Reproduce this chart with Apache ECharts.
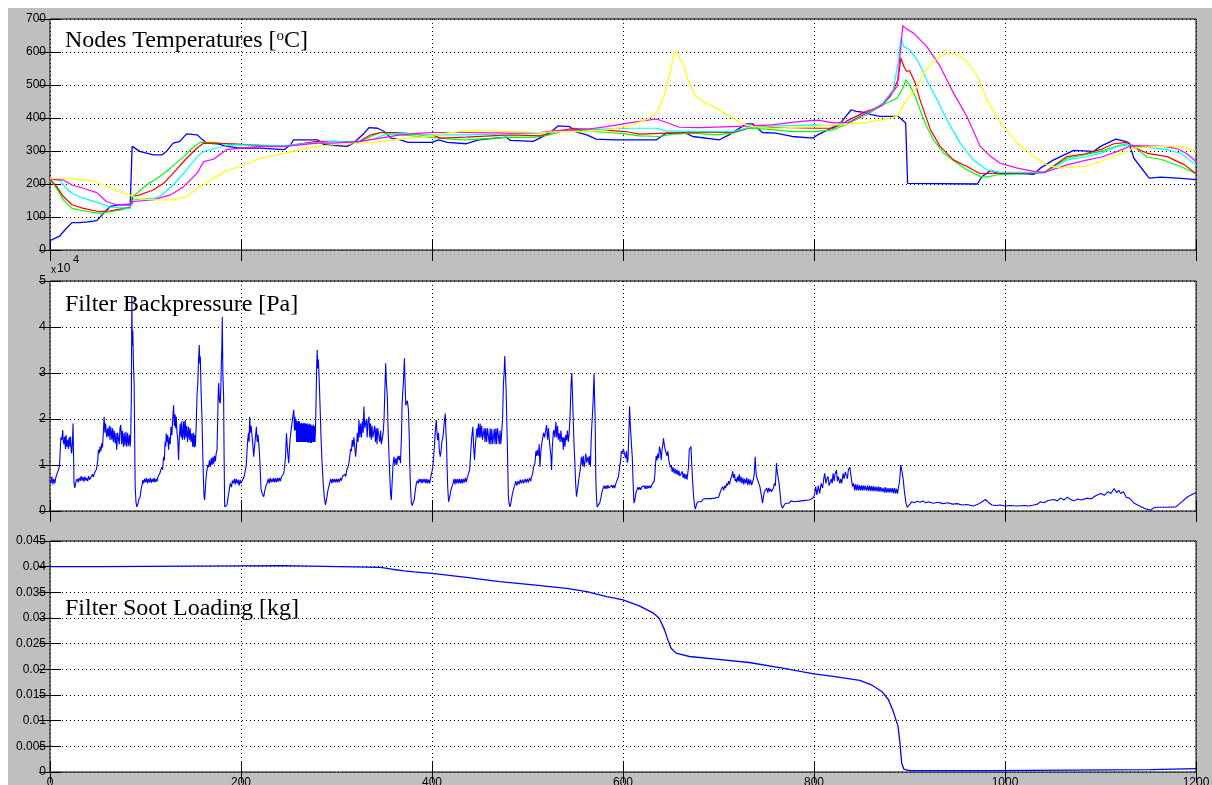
<!DOCTYPE html>
<html>
<head>
<meta charset="utf-8">
<script src="https://cdn.jsdelivr.net/npm/echarts@6/dist/echarts.min.js"></script>
<style>
html,body{margin:0;padding:0;background:#fff;}
#chart{position:absolute;left:8px;top:8px;width:1204px;height:777px;}
</style>
</head>
<body>
<div id="chart"></div>
<script>
// ---- x axis (time, s) ----
const xTicks = [0, 200, 400, 600, 800, 1000, 1200];

// ---- Nodes temperatures [degC], pairs [time, value] ----
const tempBlue = [[0,28],[5,35],[10,42],[16,62],[23,83],[31,83],[40,85],[49,89],[56,111],[63,132],[72,137],[84,137],[85,137],[86,314],[94,299],[108,288],[117,288],[122,299],[129,324],[136,329],[143,352],[154,349],[159,336],[164,324],[175,322],[185,314],[199,309],[220,309],[245,304],[252,319],[255,334],[280,334],[287,319],[311,314],[318,324],[329,354],[334,371],[343,369],[350,359],[357,339],[367,334],[375,326],[400,326],[407,334],[416,326],[436,322],[449,334],[478,342],[482,332],[506,329],[523,354],[532,376],[544,374],[550,359],[562,349],[572,336],[590,334],[635,334],[645,354],[666,354],[673,344],[701,334],[711,349],[729,382],[736,382],[746,356],[760,354],[777,344],[799,339],[804,349],[827,382],[839,425],[844,420],[853,417],[860,410],[869,405],[888,405],[896,385],[898,202],[971,200],[976,223],[985,241],[992,233],[1023,231],[1030,229],[1037,248],[1051,273],[1072,302],[1093,299],[1100,314],[1116,336],[1126,329],[1130,324],[1135,278],[1151,218],[1163,221],[1181,218],[1200,213]];
const tempGreen = [[0,212],[5,195],[9,177],[14,152],[23,126],[35,119],[52,111],[63,116],[73,121],[84,128],[86,162],[91,172],[101,197],[115,223],[126,248],[140,283],[149,309],[157,326],[171,326],[192,319],[220,317],[245,314],[280,326],[297,329],[322,326],[336,344],[346,356],[367,349],[388,344],[400,341],[419,336],[436,334],[482,342],[506,341],[523,349],[541,364],[555,362],[583,356],[603,352],[617,346],[638,344],[652,351],[673,354],[697,349],[715,354],[732,369],[750,366],[777,359],[800,359],[820,364],[837,385],[855,410],[872,440],[887,460],[894,496],[896,516],[900,501],[906,466],[911,425],[918,374],[925,334],[936,293],[950,263],[960,243],[974,223],[981,221],[992,228],[1030,233],[1041,235],[1065,278],[1083,288],[1100,299],[1118,316],[1128,322],[1135,314],[1149,281],[1163,275],[1184,253],[1200,231]];
const tempRed = [[0,215],[7,192],[14,162],[23,137],[35,126],[52,116],[63,119],[84,130],[87,162],[94,167],[108,182],[119,202],[129,233],[143,278],[154,309],[161,324],[192,322],[220,317],[245,314],[280,329],[297,329],[322,326],[336,349],[346,356],[367,356],[388,349],[400,349],[409,339],[436,342],[482,349],[513,346],[530,359],[548,369],[576,364],[603,359],[617,351],[645,354],[680,356],[715,356],[736,374],[756,372],[800,369],[820,369],[837,395],[855,420],[869,435],[880,466],[888,516],[891,582],[894,557],[897,541],[900,544],[906,506],[911,455],[922,364],[932,314],[946,273],[960,253],[974,231],[995,233],[1030,233],[1041,235],[1065,283],[1083,291],[1100,304],[1114,322],[1128,326],[1139,306],[1149,293],[1170,283],[1188,258],[1200,231]];
const tempCyan = [[0,215],[10,212],[17,187],[23,172],[35,157],[52,142],[63,130],[84,126],[87,152],[108,157],[115,162],[129,197],[143,243],[154,283],[161,299],[175,309],[185,316],[199,319],[245,316],[297,329],[322,326],[336,334],[350,349],[367,354],[400,349],[436,349],[482,352],[513,354],[530,359],[555,366],[576,366],[610,369],[635,369],[645,361],[680,359],[715,359],[736,374],[800,379],[820,376],[837,390],[855,415],[872,445],[883,486],[888,567],[891,643],[894,617],[900,607],[908,577],[918,516],[929,455],[939,395],[953,324],[967,273],[981,243],[995,235],[1030,235],[1041,233],[1065,273],[1083,281],[1100,293],[1118,314],[1132,319],[1139,314],[1156,309],[1170,304],[1184,293],[1200,258]];
const tempMagenta = [[0,215],[14,212],[23,197],[35,187],[49,174],[59,147],[70,137],[86,140],[87,147],[108,152],[126,167],[140,192],[154,233],[161,268],[171,275],[185,304],[199,309],[220,314],[245,314],[280,324],[297,324],[325,329],[346,339],[367,349],[388,354],[400,356],[436,356],[482,354],[513,356],[530,362],[562,366],[583,374],[610,387],[635,397],[645,387],[659,372],[680,371],[715,374],[736,376],[756,379],[777,387],[798,393],[806,393],[820,385],[837,387],[855,415],[872,440],[887,496],[890,587],[893,680],[897,670],[904,658],[918,617],[932,557],[946,476],[960,405],[974,314],[985,283],[995,263],[1013,248],[1030,238],[1041,235],[1065,258],[1083,271],[1100,281],[1118,299],[1132,316],[1167,314],[1181,306],[1191,291],[1200,268]];
const tempYellow = [[0,217],[17,217],[45,210],[59,194],[73,177],[86,164],[94,154],[108,152],[129,152],[143,162],[157,192],[171,217],[185,241],[199,253],[220,278],[245,293],[262,304],[280,314],[297,319],[318,322],[339,326],[367,336],[388,342],[402,349],[436,362],[482,359],[513,356],[530,359],[562,359],[583,364],[607,376],[624,395],[635,415],[643,466],[649,536],[654,602],[657,592],[664,557],[669,506],[676,466],[687,445],[701,425],[715,400],[725,382],[736,374],[756,369],[800,374],[820,379],[837,382],[855,387],[872,395],[887,405],[897,455],[906,486],[915,536],[925,572],[939,597],[950,592],[960,572],[971,526],[981,455],[995,385],[1013,324],[1030,283],[1044,258],[1058,248],[1083,253],[1100,268],[1118,288],[1135,309],[1163,314],[1184,314],[1200,299]];

// ---- Filter backpressure [x 10^4 Pa], pairs [time, value] ----
const backpressure = [[0,0.67],[1,0.6],[2,0.75],[3,0.58],[4,0.7],[5,0.6],[6,0.72],[7,0.75],[8,0.85],[9,0.9],[10,1.0],
[11,1.45],[11.5,1.6],[12.5,1.55],[13.3,1.76],[14,1.5],[14.7,1.45],[15.5,1.62],[16.2,1.35],[16.8,1.65],[17.5,1.4],[18.3,1.55],[19.2,1.35],[20,1.6],[21,1.4],[21.5,1.62],[22.2,1.3],[22.7,1.25],[23.5,1.5],[24.1,1.9],[24.6,1.3],[25.2,0.6],[26,0.5],[27.3,0.65],
[28.5,0.7],[29.5,0.62],[30.5,0.72],[31.5,0.65],[32.5,0.76],[33.5,0.66],[34.5,0.74],[35.5,0.64],[36.5,0.75],[37.5,0.66],[38.5,0.72],[39.5,0.65],[40.5,0.76],[41.5,0.68],[42.5,0.72],[43.5,0.66],[44.5,0.8],[45.5,0.74],[46.5,0.82],[47.5,0.8],[48.5,0.9],[49,0.96],
[50,1.1],[50.7,1.33],[51.5,1.25],[52.5,1.4],[53.3,1.3],[54.2,1.47],[55,1.38],[55.8,1.7],[56.7,2.05],[57.5,1.7],[58.2,1.9],[58.7,1.76],[59.5,1.6],[60.3,1.8],[61.2,1.62],[62,1.85],[62.8,1.55],[63.6,1.83],[64.7,1.55],[65.5,1.8],[66.3,1.5],[67.1,1.75],[68.2,1.47],[69,1.7],[69.9,1.33],[70.8,1.7],[71.7,1.69],[72.5,1.45],[73.3,1.8],[74.1,1.87],[75,1.45],[75.8,1.75],[76.9,1.4],[77.7,1.7],[78.6,1.42],[79.5,1.72],[80.4,1.4],[81.3,1.7],[82.2,1.42],[83.2,1.65],[84,1.4],[84.6,1.69],
[85.2,2.5],[85.7,4.66],[86.2,3.6],[86.7,3.93],[87.4,3.2],[88.1,2.78],[88.7,1.5],[89.2,0.53],[90,0.2],[90.9,0.09],[92,0.15],[93,0.25],[94.4,0.31],[95.5,0.48],[96.5,0.58],[97.2,0.67],
[98,0.6],[99,0.7],[100,0.62],[101,0.72],[102,0.6],[103,0.7],[104,0.62],[105,0.72],[106,0.61],[107,0.7],[108,0.63],[109,0.72],[110,0.62],[111,0.7],[112,0.64],[113,0.74],[114,0.7],[115,0.82],[116,0.78],[117,0.95],[118,0.9],[118.9,1.18],
[119.7,1.1],[120.5,1.5],[121.2,1.4],[121.7,1.69],[122.5,1.5],[123.3,1.65],[124.1,1.33],[125,1.6],[125.8,1.45],[126.7,1.83],[127.6,1.65],[128.5,2.0],[129.4,2.3],[130.2,1.85],[131,2.1],[131.6,1.8],[132.2,2.05],[133,1.7],[133.8,1.55],[134.6,1.11],[135.4,1.6],[136.4,1.9],[137.2,1.6],[138,1.95],[138.6,1.55],[139.2,1.62],[140,1.95],[140.8,1.55],[141.6,1.98],[142.4,1.6],[143.2,1.85],[144,1.5],[145.1,1.83],[146,1.55],[146.8,1.8],[147.6,1.5],[148.6,1.69],[149.4,1.4],[150.2,1.7],[151,1.38],[151.6,1.65],[152.1,1.4],
[153,1.8],[154,2.56],[154.6,2.7],[155.4,3.2],[156.3,3.61],[156.9,3.2],[157.4,3.36],[158.2,2.6],[159.1,2.05],[160,1.2],[160.9,0.53],[161.4,0.3],[161.9,0.24],[162.6,0.45],
[163.5,0.75],[164.4,0.89],[165.2,1.0],[166,0.95],[167,1.1],[167.9,0.96],[168.8,1.15],[169.7,1.0],[170.6,1.18],[171.4,1.03],[172.3,1.2],[173.2,1.08],[174,1.25],[174.9,1.33],[175.6,2.0],[176.2,2.6],[176.6,2.78],[177.4,2.4],[178.3,2.34],[178.9,2.7],[179.4,3.21],[180,3.6],[180.4,4.22],[181,3.0],[181.8,2.49],[182.3,1.2],[182.9,0.09],[184,0.12],[185.3,0.13],[186.5,0.3],[187.6,0.45],[188.8,0.6],
[190,0.52],[191,0.66],[192,0.6],[193,0.7],[194,0.58],[195,0.7],[196,0.6],[197,0.68],[198,0.55],[199,0.68],[200,0.6],[201.1,0.6],[202.2,0.7],[203.3,0.75],[204.6,0.89],[205.5,1.0],[206.3,1.3],[207,1.54],[207.8,1.7],[208.5,1.5],[209.1,2.05],[209.8,1.7],[210.6,1.85],[211.6,1.62],[212.5,1.4],[213.3,1.18],[214.2,1.4],[215.1,1.6],[216.1,1.83],[217,1.5],[217.8,1.65],[218.6,1.47],[219.5,1.2],[220.3,0.8],[221,0.46],[222.2,0.38],[223.8,0.31],[225,0.45],[226.2,0.55],[227.3,0.6],
[228.5,0.7],[229.5,0.6],[230.5,0.72],[231.5,0.62],[232.5,0.7],[233.5,0.63],[234.3,0.72],[235.3,0.62],[236.3,0.71],[237.3,0.63],[238.3,0.72],[239.3,0.64],[240.3,0.72],[241.3,0.65],[242.3,0.74],[243.3,0.7],[244.8,0.82],[245.8,1.0],[246.7,1.2],[247.6,1.69],[248.4,1.4],[249.2,1.2],[250,1.04],[250.8,1.4],[251.6,1.6],[252.5,1.76],[253.3,1.9],[254.2,2.05],[255.3,2.2],
[256,1.75],[256.6,2.05],[257,1.76],[257.6,2.0],[258.2,1.5],[258.8,1.95],[259.4,1.5],[260,1.95],[260.6,1.5],[261.2,1.95],[261.8,1.5],[262.3,1.9],[262.9,1.5],[263.5,1.92],[264.1,1.5],[264.7,1.9],[265.3,1.5],[265.9,1.92],[266.5,1.5],[267.1,1.9],[267.7,1.5],[268.3,1.9],[269,1.5],[269.6,1.9],[270.2,1.48],[270.8,1.88],[271.4,1.5],[272,1.9],[272.6,1.48],[273.2,1.88],[273.8,1.48],[274.4,1.85],[275,1.5],[275.6,1.88],[276.2,1.5],[276.8,1.85],[277.4,1.5],[278,1.76],
[278.6,2.4],[279.3,3.2],[279.8,3.5],[280.4,3.1],[281,3.3],[281.5,3.07],[282.3,2.6],[283.2,2.0],[284,1.47],[285,1.0],[286.1,0.6],[287.2,0.3],[288.5,0.13],[290,0.3],[291,0.45],[292,0.53],
[293,0.62],[294,0.7],[295,0.6],[296,0.7],[297,0.62],[298,0.7],[299,0.62],[300,0.7],[301,0.62],[302,0.7],[303,0.63],[304.2,0.72],[305.2,0.66],[306.2,0.75],[307.7,0.75],[308.7,0.8],[309.7,0.75],[310.8,0.9],[312,0.95],[313,1.04],[314,1.2],[314.8,1.35],[315.6,1.3],[316.5,1.54],[317.3,1.4],[318.2,1.6],[319.1,1.4],[320,1.18],[320.9,1.4],[321.8,1.7],[322.6,1.5],[323.5,1.98],[324.4,1.6],[325.3,1.9],[326.2,1.6],[327.1,1.95],[327.9,1.7],[328.7,2.27],[329.6,1.8],[330.5,1.76],[331.3,2.0],[332.1,1.6],[333,1.95],[334,2.05],[334.8,1.6],[335.6,1.9],[336.4,1.55],[337.2,1.85],[338.1,1.6],[339.2,1.62],[340,1.85],[340.8,1.5],[341.6,1.8],[342.4,1.45],[343.2,1.8],[344.5,1.76],[345.3,1.5],[346.2,1.75],[347,1.45],[348,1.47],[348.9,1.7],[349.8,2.0],[350.6,2.6],[351.5,3.21],[352.2,2.8],[353.2,2.49],[354,1.8],[355,1.18],[355.9,0.7],[356.7,0.35],[357.4,0.24],[358.2,0.6],[359.2,1.0],[360.2,1.18],[361.2,1.0],[362.2,1.15],[363.2,1.0],[364.3,1.2],[365.4,1.11],[366.2,1.2],[367,1.04],[368,1.6],[368.7,2.34],[369.5,2.6],[370.3,2.9],[371.1,3.32],[371.8,2.8],[372.5,2.3],[373.2,2.27],[374.2,2.4],[375.3,2.2],[376.2,1.6],[376.7,1.04],[377.5,0.5],[378.4,0.17],[379.3,0.12],[380.2,0.09],[381.4,0.25],[382.6,0.46],[383.6,0.6],
[384.6,0.66],[385.6,0.6],[386.6,0.7],[387.6,0.62],[388.6,0.7],[389.6,0.6],[390.6,0.7],[391.6,0.62],[392.6,0.7],[393.6,0.6],[394.6,0.7],[395.6,0.6],[396.6,0.68],[397.6,0.6],[398.8,0.75],[400,0.86],[400.8,0.95],[401.7,1.18],[402.5,1.4],[403.5,1.75],[404.5,1.98],[405.2,1.7],[405.9,1.54],[406.8,1.7],[407.7,1.3],[408.7,1.18],[409.5,1.3],[410.3,1.5],[411.5,1.62],[412.3,1.8],[413.2,2.0],[413.9,2.12],[414.6,1.7],[415.2,1.5],[415.7,1.04],[416.5,0.5],[417.4,0.2],[418.5,0.3],[419.8,0.45],[420.9,0.53],
[422,0.6],[423,0.7],[424,0.58],[425,0.7],[426,0.6],[427,0.7],[428,0.6],[429,0.7],[430,0.6],[431,0.7],[432,0.6],[433,0.7],[434,0.62],[435,0.72],[436,0.63],[437,0.73],[438.3,0.75],[439.5,0.9],[440.7,1.33],[441.6,1.6],[442.8,1.83],[443.6,1.4],[444.5,1.11],[445.3,1.4],[446.2,1.62],[447,1.8],[447.8,1.6],[448.6,1.9],[449.5,1.6],[450.4,1.9],[451.2,1.6],[452,1.85],[452.9,1.55],[453.9,1.54],[454.7,1.8],[455.5,1.5],[456.3,1.8],[457.2,1.5],[458.1,1.8],[459.1,1.62],[460,1.45],[460.9,1.8],[461.7,1.45],[462.6,1.78],[463.5,1.45],[464.3,1.43],[465.2,1.78],[466,1.45],[466.9,1.8],[467.7,1.45],[468.6,1.8],[469.6,1.62],[470.4,1.45],[471.3,1.75],[472.1,1.45],[473,1.47],[473.9,2.0],[474.8,2.78],[475.5,3.0],[476.2,3.37],[476.9,3.0],[477.6,2.63],[478.3,2.0],[479,1.33],[479.5,0.8],[480,0.31],[480.8,0.15],[481.7,0.09],[482.8,0.2],[484,0.35],[485.2,0.46],[486.5,0.55],
[487.7,0.65],[488.8,0.55],[490,0.65],[491.2,0.58],[492.4,0.68],[493.6,0.6],[494.8,0.68],[496,0.6],[497.4,0.7],[498.6,0.62],[499.8,0.7],[501,0.62],[502.2,0.72],[503.3,0.65],[504.3,0.75],[505.3,0.8],[506.3,0.95],[507.8,1.04],[508.8,1.3],[509.6,1.2],[510.3,1.33],[511.3,1.2],[512.3,1.45],[513,0.96],[514,1.3],[515,1.47],[515.8,1.47],[516.8,1.7],[518,1.6],[519,1.75],[520,1.87],[521,1.55],[522,1.8],[523,1.5],[523.5,1.47],[524.5,1.2],[525.2,0.89],[526,1.4],[527,1.7],[527.6,1.76],[528.6,1.6],[529.7,1.94],[530.5,1.6],[531.5,1.85],[532.3,1.55],[533.2,1.69],[534.1,1.5],[535,1.75],[536,1.5],[537,1.6],[537.4,1.33],[538.3,1.6],[539.2,1.4],[540,1.65],[540.9,1.54],[541.8,1.75],[542.7,1.5],[543.6,1.69],[544.4,2.0],[545,2.34],[545.7,2.8],[546.4,3.0],[547,2.6],[547.8,2.05],[548.6,1.5],[549.6,1.04],[550.4,0.6],[551.3,0.31],[552.2,0.45],[553.2,0.6],[554.1,0.75],[555.2,0.9],[556.5,1.18],[557.5,1.0],[558.4,1.2],[559.2,0.95],[560,1.04],[561,1.25],[562,1.05],[563.5,1.18],[564.5,1.0],[565.2,1.2],[565.9,0.96],[566.6,1.5],[567.3,1.83],[568,2.1],[568.7,2.38],[569.2,2.7],[569.7,2.99],[570.2,2.5],[570.8,2.05],[571.5,0.75],[572.2,0.3],[572.9,0.09],[574.2,0.12],[575.6,0.17],[577,0.3],[578.1,0.42],[579.1,0.49],
[580.2,0.55],[581.2,0.48],[582.2,0.55],[583.2,0.48],[584.2,0.56],[585.2,0.5],[586.1,0.53],[587.2,0.48],[588.3,0.56],[589.3,0.5],[590.3,0.56],[591.3,0.5],[592.2,0.58],[593,0.6],[594.2,0.62],[595.3,0.75],[596.5,0.96],[597.5,1.1],[598.3,1.3],[599.3,1.25],[600.4,1.35],[601.7,1.33],[602.7,1.15],[603.7,1.3],[604.4,1.05],[605.2,1.11],[606,1.6],[606.9,2.27],[607.6,1.9],[608.3,1.9],[609,1.4],[609.7,1.18],[610.6,0.6],[611.5,0.17],[612.5,0.25],[613.6,0.4],[614.6,0.46],[615.6,0.52],[616.6,0.46],[617.6,0.52],[618.6,0.46],[619.6,0.52],[620.9,0.49],[622,0.55],[623,0.48],[624,0.55],[625,0.48],[626,0.55],[627,0.5],[628,0.55],[629,0.5],[630,0.56],[631.3,0.53],[632.6,0.65],[633.4,0.8],[634.1,1.04],[634.8,1.2],[635.5,1.1],[636.5,1.25],[637.3,1.15],[638.2,1.4],[639.2,1.3],[640,1.11],[641,1.35],[641.8,1.45],[642.4,1.58],[643.2,1.45],[644.2,1.33],[645.2,1.35],[646,1.2],[647,1.3],[648,1.1],[648.6,1.04],[649.5,0.95],[650.5,1.0],[651.5,0.85],[652.5,0.95],[653.5,0.82],[654.5,0.92],[655.5,0.8],[656.5,0.9],[657.5,0.78],[658.5,0.88],[659.5,0.76],[660.8,0.75],[662,0.86],[663,0.72],[664,0.82],[665,0.7],[666,0.8],[667,0.68],[667.7,0.67],[668.6,0.95],[669.4,1.33],[670.3,1.3],[671.2,1.4],[672,1.0],[673,0.6],[674,0.3],[675,0.1],[675.8,0.04],[677,0.15],[678.5,0.2],[680,0.24],
[682,0.2],[684,0.26],[686,0.22],[688,0.27],[690,0.23],[692,0.27],[694,0.24],[696,0.28],[698,0.25],[700,0.3],[701,0.33],[702.5,0.45],[704.3,0.53],[705.5,0.45],[706.5,0.55],[707.5,0.5],[708.5,0.6],[709.5,0.55],[710.5,0.65],[711.5,0.58],[712.8,0.7],[713.8,0.75],[714.8,0.86],[715.8,0.72],[716.8,0.8],[717.5,0.65],[718.2,0.7],[719,0.62],[720,0.75],[720.8,0.65],[721.7,0.8],[722.5,0.62],[723.5,0.75],[724.5,0.6],[725.5,0.72],[726.5,0.58],[727.5,0.7],[728.7,0.6],[729.7,0.72],[730.7,0.56],[731.7,0.7],[732.7,0.58],[733.7,0.68],[734.7,0.56],[735.6,0.6],[736.6,0.7],[737.4,0.8],[738.4,1.18],[739.1,0.9],[739.8,0.75],[741,0.75],[742.2,0.6],[743.3,0.53],[744.3,0.5],[745.2,0.3],[746.1,0.17],[747,0.3],[748,0.42],[749.5,0.42],[750.5,0.5],[751.5,0.4],[752.5,0.5],[753.5,0.42],[754.5,0.48],[755.5,0.42],[756.5,0.46],[757.5,0.5],[758.5,0.6],[759.5,0.55],[760.7,1.04],[761.5,0.85],[762.2,0.85],[762.8,0.89],[763.5,0.6],[764.5,0.38],[765.5,0.15],[767,0.06],[768.5,0.12],[770.4,0.17],[772,0.2],[774,0.17],[776,0.22],[777.4,0.22],[779,0.2],[781,0.24],[783,0.21],[785,0.25],[787,0.22],[789,0.26],[791,0.23],[793,0.27],[795,0.24],[797,0.28],[799,0.28],[800.5,0.35],[801.8,0.53],[803,0.35],[804.5,0.55],[806,0.38],[807.5,0.6],[809,0.5],[810.2,0.7],[811.2,0.82],[812.5,0.6],[813.5,0.7],[814.7,0.75],[815.8,0.55],[817.2,0.53],[818.2,0.7],[819,0.6],[820,0.82],[821,0.65],[822,0.8],[823.5,0.89],[824.5,0.65],[825.5,0.75],[827,0.6],[828,0.7],[829,0.6],[830.5,0.82],[831.5,0.7],[832.8,0.85],[834,0.86],[835,0.7],[836,0.9],[837.5,0.95],[838.5,0.8],[839.5,0.65],[840.3,0.53],
[841.5,0.6],[842.5,0.45],[843.5,0.58],[844.5,0.45],[845.5,0.58],[846.5,0.45],[847.5,0.56],[848.5,0.45],[849.5,0.56],[850.5,0.44],[851.5,0.56],[852.5,0.45],[853.5,0.55],[855,0.44],[856,0.55],[857,0.44],[858,0.55],[859,0.43],[860,0.54],[861,0.43],[862,0.54],[863,0.43],[864,0.53],[865,0.43],[866,0.53],[867,0.42],[868,0.53],[869,0.42],[870,0.52],[871,0.42],[872.5,0.5],[873.5,0.4],[874.5,0.52],[875.5,0.4],[876.5,0.5],[877.5,0.4],[878.5,0.5],[879.5,0.4],[880.5,0.5],[881.5,0.4],[882.5,0.5],[883.5,0.38],[884.5,0.5],[885.5,0.38],[886.5,0.48],[887.5,0.38],[888.3,0.42],[889.2,0.6],[890,0.75],[890.9,1.0],[891.8,1.04],[892.6,0.8],[893.5,0.67],[894.8,0.4],[896.3,0.17],[897.6,0.08],[898.8,0.06],[900.5,0.15],[902.3,0.2],
[905,0.18],[908,0.21],[911,0.19],[914,0.22],[917,0.18],[920,0.2],[925,0.17],[930,0.19],[935,0.16],[940,0.18],[945,0.15],[950,0.16],[955,0.13],[960,0.14],[967.1,0.11],[972,0.15],[976,0.2],[979.4,0.25],[983,0.18],[986.4,0.13],[990,0.12],[995,0.13],[1000,0.11],[1006,0.12],[1012.6,0.11],[1020,0.12],[1025,0.11],[1030.1,0.13],[1034,0.15],[1037.2,0.2],[1041,0.18],[1045,0.23],[1051.2,0.25],[1055,0.22],[1058,0.28],[1062,0.24],[1065.2,0.3],[1068,0.26],[1072.2,0.22],[1076,0.26],[1080,0.24],[1086.2,0.28],[1090,0.26],[1095,0.33],[1100.2,0.38],[1104,0.34],[1108,0.42],[1111,0.38],[1114.2,0.49],[1117,0.4],[1119,0.45],[1121.2,0.38],[1124,0.42],[1127,0.3],[1130,0.28],[1133,0.22],[1135.2,0.17],[1140,0.12],[1145.7,0.06],[1150,0.03],[1152.7,0.02],[1155,0.06],[1158,0.08],[1165,0.08],[1170.3,0.08],[1179,0.09],[1185,0.2],[1191.3,0.31],[1200,0.4]];

// ---- Filter soot loading [kg], pairs [time, value] ----
const sootLoading = [[0,0.0400],[54,0.0400],[54.5,0.0402],[243,0.0402],[243.5,0.0400],[302,0.0400],[303,0.03988],[346,0.03988],[358,0.0395],[371,0.0392],[381,0.0390],[400,0.03871],[436,0.03793],[471,0.03709],[506,0.03644],[541,0.03579],[562,0.03514],[583,0.03417],[600,0.03352],[617,0.03236],[631,0.03106],[638,0.02996],[643.5,0.02769],[647,0.02574],[650.4,0.02412],[655.6,0.02315],[669.5,0.0225],[697,0.02198],[732,0.02133],[767,0.02023],[800,0.01913],[820,0.01861],[848,0.01783],[860,0.01699],[871,0.01569],[878,0.01407],[883,0.0118],[888,0.00888],[890,0.00564],[891.8,0.00175],[894,0.00058],[900,0.00026],[984,0.00026],[986,0.00045],[1152,0.00045],[1154,0.00065],[1200,0.00065]];

// ---- tick labels ----
const tempTicks = [0,100,200,300,400,500,600,700];
const bpTicks = [0,1,2,3,4,5];
const sootTicks = [0,0.005,0.01,0.015,0.02,0.025,0.03,0.035,0.04,0.045];

const chart = echarts.init(document.getElementById('chart'), null, {renderer: 'canvas'});

const labelFont = {fontSize: 12, color: '#000', fontFamily: '"Liberation Sans", Arial, sans-serif'};
const dotted = {color: '#000', width: 1, type: [1, 3]};
const grids = [
  {left: 42, top: 11, width: 1146, height: 231},
  {left: 42, top: 273, width: 1146, height: 230},
  {left: 42, top: 533, width: 1146, height: 231}
].map(g => Object.assign(g, {show: true, backgroundColor: '#fff', borderColor: '#000', borderWidth: 1,
  containLabel: false, outerBoundsMode: 'none'}));

const xAxes = [];
const yAxes = [];
const yRanges = [[tempTicks, 100], [bpTicks, 1], [sootTicks, 0.005]];
for (let i = 0; i < 3; i++) {
  xAxes.push({
    type: 'value', gridIndex: i, position: 'bottom', min: xTicks[0], max: xTicks[xTicks.length - 1], interval: 200,
    axisLine: {show: false},
    axisTick: {show: true, inside: true, length: 11, lineStyle: {color: '#000'}},
    axisLabel: {show: i === 2, margin: 5, ...labelFont, formatter: v => String(v)},
    splitLine: {show: true, lineStyle: dotted}
  });
  xAxes.push({
    type: 'value', gridIndex: i, position: 'top', min: xTicks[0], max: xTicks[xTicks.length - 1], interval: 200,
    axisLine: {show: false},
    axisTick: {show: true, inside: true, length: 11, lineStyle: {color: '#000'}},
    axisLabel: {show: false}, splitLine: {show: false}
  });
  const ticks = yRanges[i][0];
  const step = yRanges[i][1];
  yAxes.push({
    type: 'value', gridIndex: i, position: 'left', min: ticks[0], max: ticks[ticks.length - 1], interval: step,
    axisLine: {show: false},
    axisTick: {show: true, inside: true, length: 11, lineStyle: {color: '#000'}},
    axisLabel: {show: true, margin: 4, ...labelFont,
      formatter: v => String(parseFloat(v.toFixed(4)))},
    splitLine: {show: true, lineStyle: dotted}
  });
  yAxes.push({
    type: 'value', gridIndex: i, position: 'right', min: ticks[0], max: ticks[ticks.length - 1], interval: step,
    axisLine: {show: false},
    axisTick: {show: true, inside: true, length: 11, lineStyle: {color: '#000'}},
    axisLabel: {show: false}, splitLine: {show: false}
  });
}

function lineSeries(data, color, xi, yi, w) {
  return {type: 'line', data: data, xAxisIndex: xi, yAxisIndex: yi, showSymbol: false, symbol: 'none',
    lineStyle: {color: color, width: w}, itemStyle: {color: color}, animation: false, silent: true, z: 3};
}

const series = [
  lineSeries(tempBlue, '#0000ff', 0, 0, 1.3),
  lineSeries(tempGreen, '#00ff00', 0, 0, 1.2),
  lineSeries(tempRed, '#ff0000', 0, 0, 1.2),
  lineSeries(tempCyan, '#00ffff', 0, 0, 1.2),
  lineSeries(tempMagenta, '#ff00ff', 0, 0, 1.2),
  lineSeries(tempYellow, '#ffff00', 0, 0, 1.2),
  lineSeries(backpressure, '#0000ff', 2, 2, 1.1),
  lineSeries(sootLoading, '#0000ff', 4, 4, 1.3)
];

const serif = '"Liberation Serif", "Times New Roman", serif';
const graphic = [
  {type: 'text', left: 57, top: 21, z: 100, silent: true,
   style: {text: 'Nodes Temperatures [{sup|o}C]', fill: '#000', font: '24px ' + serif,
     rich: {sup: {fontSize: 15, fontFamily: serif, fill: '#000', verticalAlign: 'top'}}}},
  {type: 'text', left: 57, top: 285, z: 100, silent: true,
   style: {text: 'Filter Backpressure [Pa]', fill: '#000', font: '24px ' + serif}},
  {type: 'text', left: 57, top: 589, z: 100, silent: true,
   style: {text: 'Filter Soot Loading [kg]', fill: '#000', font: '24px ' + serif}},
  {type: 'text', left: 43, top: 257, z: 100, silent: true,
   style: {text: 'x', fill: '#000', font: '10px "Liberation Sans", Arial, sans-serif'}},
  {type: 'text', left: 49, top: 255, z: 100, silent: true,
   style: {text: '10', fill: '#000', font: '12px "Liberation Sans", Arial, sans-serif'}},
  {type: 'text', left: 65, top: 246, z: 100, silent: true,
   style: {text: '4', fill: '#000', font: '11px "Liberation Sans", Arial, sans-serif'}}
];

chart.setOption({
  backgroundColor: '#bfbfbf',
  animation: false,
  grid: grids,
  xAxis: xAxes,
  yAxis: yAxes,
  series: series,
  graphic: graphic
});
</script>
</body>
</html>
